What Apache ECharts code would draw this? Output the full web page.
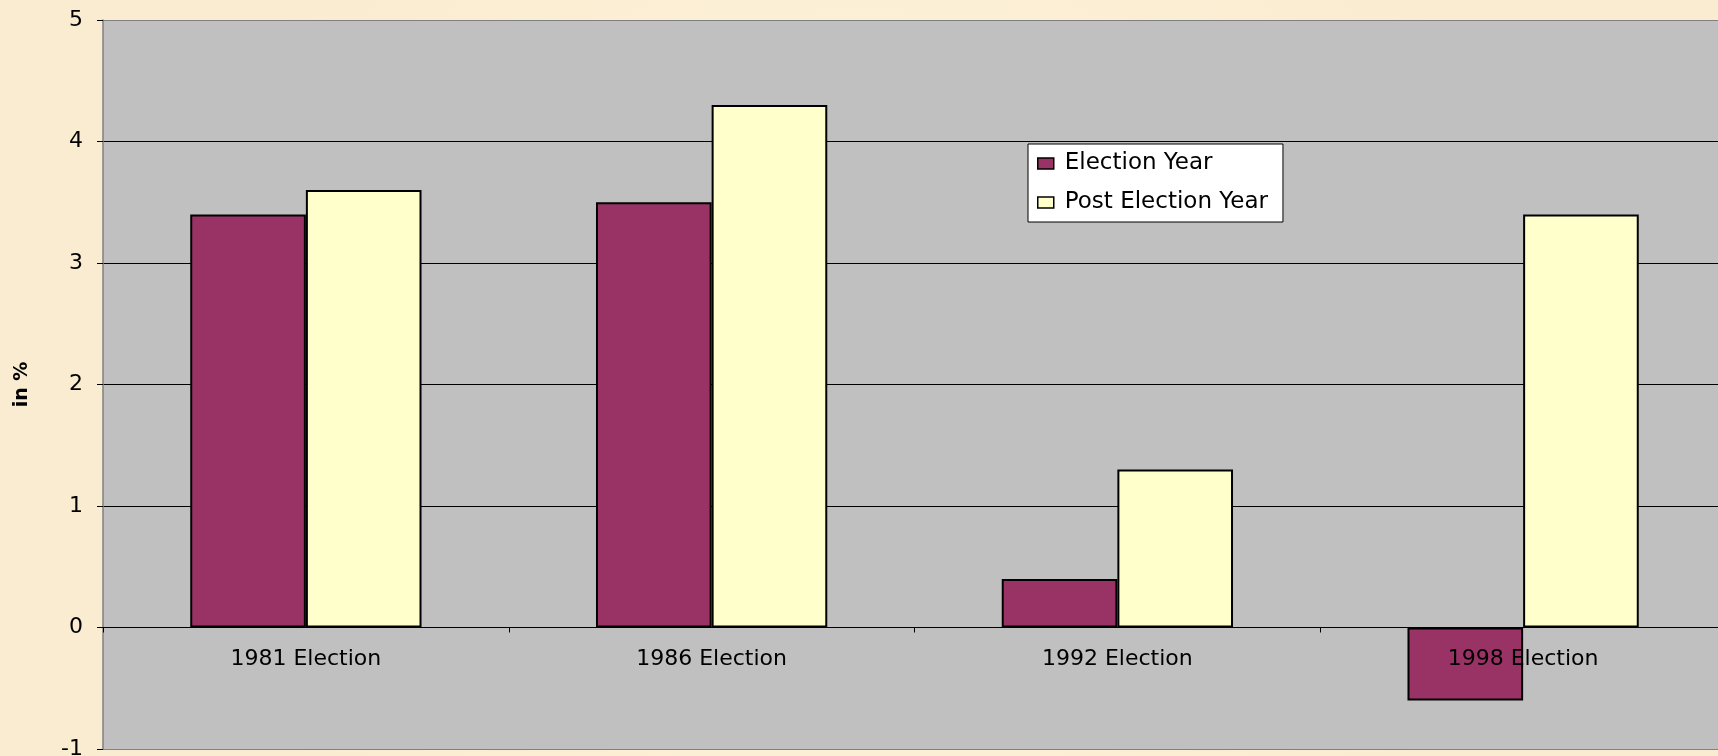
<!DOCTYPE html>
<html>
<head>
<meta charset="utf-8">
<title>Growth around elections</title>
<script src="https://cdn.jsdelivr.net/npm/echarts@6/dist/echarts.min.js"></script>
<style>
  html, body { margin: 0; padding: 0; background: #FBEFD5; }
  #chart { width: 1718px; height: 756px; }
</style>
</head>
<body>
<div id="chart"></div>
<script>
// Categories and values (percent)
const categories = ['1981 Election', '1986 Election', '1992 Election', '1998 Election'];
const electionYear = [3.4, 3.5, 0.4, -0.6];
const postElectionYear = [3.6, 4.3, 1.3, 3.4];
const seriesNames = ['Election Year', 'Post Election Year'];
const yTicks = { min: -1, max: 5, interval: 1 };

const FONT = 'DejaVu Sans';
const GRID = { left: 103, top: 20, right: -8, bottom: 7 };
const chartHeight = 756;
const plotHeight = chartHeight - GRID.top - GRID.bottom;
// distance from the plot's bottom edge up to the zero line
const zeroLift = plotHeight * (0 - yTicks.min) / (yTicks.max - yTicks.min);

const chart = echarts.init(document.getElementById('chart'), null, { renderer: 'canvas' });

chart.setOption({
  animation: false,
  backgroundColor: {
    type: 'radial', x: 0.5, y: 0.5, r: 0.9,
    colorStops: [
      { offset: 0, color: '#FDF3DC' },
      { offset: 1, color: '#FAECD0' }
    ]
  },
  grid: {
    left: GRID.left, top: GRID.top, right: GRID.right, bottom: GRID.bottom,
    containLabel: false,
    outerBoundsMode: 'none',
    show: true, backgroundColor: '#C0C0C0', borderWidth: 0
  },
  legend: {
    orient: 'vertical',
    left: 1028, top: 144,
    padding: [8, 15, 8, 9],
    itemGap: 16,
    itemWidth: 16, itemHeight: 11,
    backgroundColor: '#FFFFFF',
    borderColor: '#000000', borderWidth: 1,
    icon: 'rect',
    itemStyle: { borderColor: '#000', borderWidth: 1.5 },
    textStyle: { fontFamily: FONT, fontSize: 23, color: '#000', padding: [0, 0, 0, 6] },
    data: seriesNames
  },
  xAxis: {
    type: 'category',
    data: categories,
    z: 5,
    position: 'bottom',
    offset: -zeroLift,
    axisLine: { onZero: false, lineStyle: { color: '#000', width: 1 } },
    axisTick: { show: true, length: 5, lineStyle: { color: '#000' } },
    axisLabel: { fontFamily: FONT, fontSize: 22, color: '#000', margin: 21 },
    splitLine: { show: false }
  },
  yAxis: {
    type: 'value',
    min: yTicks.min, max: yTicks.max, interval: yTicks.interval,
    name: 'in %',
    nameLocation: 'middle',
    nameRotate: 90,
    nameGap: 71,
    nameTextStyle: { fontFamily: FONT, fontSize: 19, fontWeight: 'bold', color: '#000' },
    axisLine: { show: true, lineStyle: { color: '#808080', width: 1.5 } },
    axisTick: { show: true, inside: false, length: 6, lineStyle: { color: '#000' } },
    axisLabel: { fontFamily: FONT, fontSize: 22, color: '#000', margin: 20 },
    splitLine: {
      show: true,
      lineStyle: { color: ['#808080', '#000', '#000', '#000', '#000', '#000', '#808080'], width: 1 }
    }
  },
  series: [
    {
      name: seriesNames[0],
      type: 'bar',
      data: electionYear,
      barGap: '0%',
      barCategoryGap: '43%',
      itemStyle: { color: '#993366', borderColor: '#000', borderWidth: 2 }
    },
    {
      name: seriesNames[1],
      type: 'bar',
      data: postElectionYear,
      barGap: '0%',
      barCategoryGap: '43%',
      itemStyle: { color: '#FFFFCC', borderColor: '#000', borderWidth: 2 }
    }
  ]
});
</script>
</body>
</html>
